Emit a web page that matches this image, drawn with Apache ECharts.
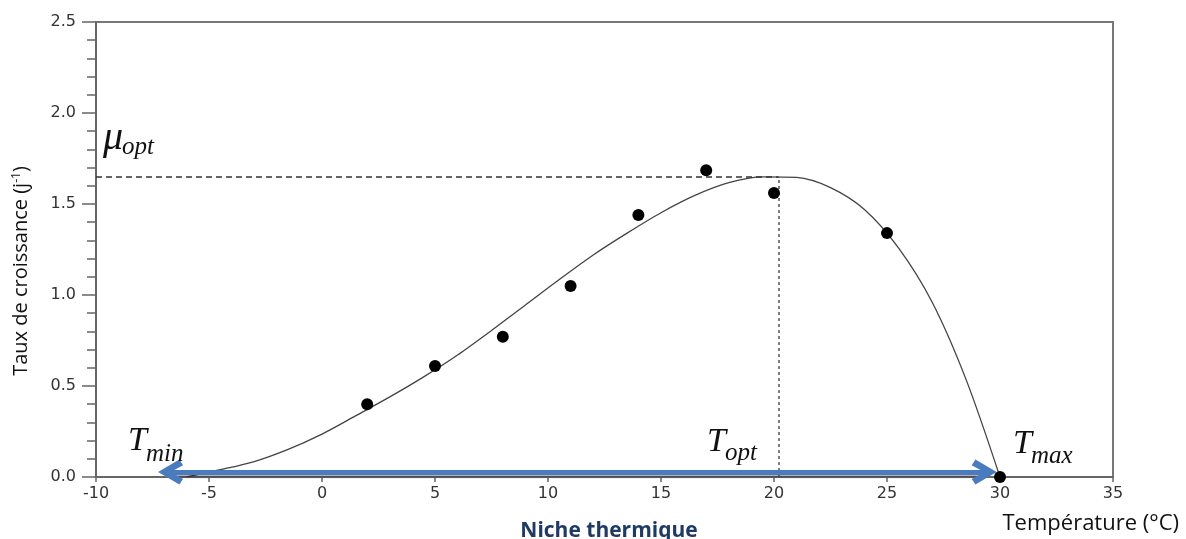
<!DOCTYPE html>
<html><head><meta charset="utf-8">
<script src="https://cdn.jsdelivr.net/npm/echarts@6/dist/echarts.min.js"></script>
<style>html,body{margin:0;padding:0;background:#fff}#c{width:1186px;height:539px}</style>
</head><body><div id="c"></div>
<script>
// measured points
const measuredT = [2, 5, 8, 11, 14, 17, 20, 25, 30];
const measuredRate = [0.40, 0.61, 0.77, 1.05, 1.44, 1.685, 1.56, 1.34, 0.0];
// fitted curve
const fitT = [-6, -4.5, -3, -1.5, 0, 1.5, 3, 4.5, 6, 7.5, 9, 10.5, 12, 13.5, 15, 16.5, 18, 19.5, 21, 22.5, 24, 25.5, 27, 28.5, 30];
const fitRate = [0, 0.04, 0.085, 0.152, 0.236, 0.337, 0.44, 0.55, 0.67, 0.805, 0.945, 1.085, 1.22, 1.34, 1.452, 1.547, 1.617, 1.649, 1.646, 1.59, 1.47, 1.26, 0.96, 0.535, 0];
// cardinal values
const muOpt = 1.65;
const tOpt = 20.2;
const nicheStart = -6.7;
const nicheEnd = 29.3;
const nicheLevel = 0.027;

const chart = echarts.init(document.getElementById('c'), null, {renderer: 'canvas'});
const tickFont = {fontFamily: 'DejaVu Sans', fontSize: 16, color: '#333'};
const chevron = 'path://M10,0 L20,17 L15.5,20 L10,10 L4.5,20 L0,17 Z';

const option = {
  animation: false,
  backgroundColor: '#fff',
  grid: {left: 96, right: 73, top: 22, bottom: 62, show: true, borderColor: '#777', borderWidth: 2, backgroundColor: 'transparent'},
  xAxis: {
    type: 'value', min: -10, max: 35, interval: 5,
    axisLine: {onZero: false, lineStyle: {color: '#666', width: 2}},
    axisTick: {length: 5, lineStyle: {color: '#666', width: 1.5}},
    axisLabel: Object.assign({margin: 9}, tickFont),
    splitLine: {show: false}
  },
  yAxis: {
    type: 'value', min: 0, max: 2.5, interval: 0.5,
    axisLine: {show: true, onZero: false, lineStyle: {color: '#666', width: 2}},
    axisTick: {show: true, length: 14, lineStyle: {color: '#666', width: 1.5}},
    minorTick: {show: true, splitNumber: 5, length: 9, lineStyle: {color: '#666', width: 1.5}},
    axisLabel: Object.assign({margin: 20, formatter: v => v.toFixed(1)}, tickFont),
    splitLine: {show: false}
  },
  series: [
    {
      type: 'line', z: 2,
      data: fitT.map((t, i) => [t, fitRate[i]]),
      smooth: 0.3, showSymbol: false, symbol: 'none',
      lineStyle: {color: '#444', width: 1.3},
      markLine: {
        silent: true, animation: false, label: {show: false},
        data: [
          [{coord: [-10, muOpt], symbol: 'none', lineStyle: {type: [6, 4], color: '#333', width: 1.6}},
           {coord: [tOpt, muOpt], symbol: 'none'}],
          [{coord: [tOpt, 0], symbol: 'none', lineStyle: {type: [3, 3], color: '#555', width: 1.5}},
           {coord: [tOpt, muOpt], symbol: 'none'}],
          [{coord: [nicheStart, nicheLevel], symbol: chevron, symbolSize: [25, 25],
            lineStyle: {type: 'solid', color: '#4a7bbf', width: 5, shadowColor: 'rgba(0,0,0,0.35)', shadowBlur: 3, shadowOffsetY: 2}},
           {coord: [nicheEnd, nicheLevel], symbol: chevron, symbolSize: [25, 25]}]
        ]
      }
    },
    {
      type: 'scatter', z: 5, clip: false,
      data: measuredT.map((t, i) => [t, measuredRate[i]]),
      symbolSize: 12,
      itemStyle: {color: '#000', opacity: 1}
    }
  ]
};
chart.setOption(option);

const ctx = document.createElement('canvas').getContext('2d');
function tw(text, font) { ctx.font = font; return ctx.measureText(text).width; }
function symLabel(main, sub, anchorT, anchorMu, mainSize, subSize, drop) {
  const p = chart.convertToPixel({gridIndex: 0}, [anchorT, anchorMu]);
  const fm = 'italic ' + mainSize + 'px "Liberation Serif"';
  const fs = 'italic ' + subSize + 'px "Liberation Serif"';
  const w = tw(main, fm);
  return [
    {type: 'text', x: p[0], y: p[1], z: 10, style: {text: main, font: fm, fill: '#111', align: 'left', verticalAlign: 'bottom'}},
    {type: 'text', x: p[0] + w - 1, y: p[1] + drop, z: 10, style: {text: sub, font: fs, fill: '#111', align: 'left', verticalAlign: 'bottom'}}
  ];
}
const g = [].concat(
  symLabel('μ', 'opt', -9.69, 1.75, 40, 25, 1),
  symLabel('T', 'min', -8.58, 0.105, 34, 25, 9),
  symLabel('T', 'opt', 17.04, 0.10, 34, 25, 7),
  symLabel('T', 'max', 30.58, 0.09, 34, 25, 8)
);
g.push({type: 'text', x: 21, y: 271, rotation: Math.PI / 2, z: 10,
  style: {text: 'Taux de croissance (j{s|-1})', fontFamily: 'Open Sans', fontSize: 20, fill: '#111', align: 'center', verticalAlign: 'middle',
    rich: {s: {fontFamily: 'Open Sans', fontSize: 12, verticalAlign: 'top', padding: [0, 0, 9, 0]}}}});
g.push({type: 'text', x: 1179, y: 524, z: 10,
  style: {text: 'Température (°C)', fontFamily: 'Open Sans', fontSize: 22, fill: '#111', align: 'right', verticalAlign: 'middle'}});
g.push({type: 'text', x: 609, y: 531, z: 10,
  style: {text: 'Niche thermique', fontFamily: 'Open Sans', fontWeight: 'bold', fontSize: 21, fill: '#1f3a63', align: 'center', verticalAlign: 'middle'}});
chart.setOption({graphic: g});
</script></body></html>
